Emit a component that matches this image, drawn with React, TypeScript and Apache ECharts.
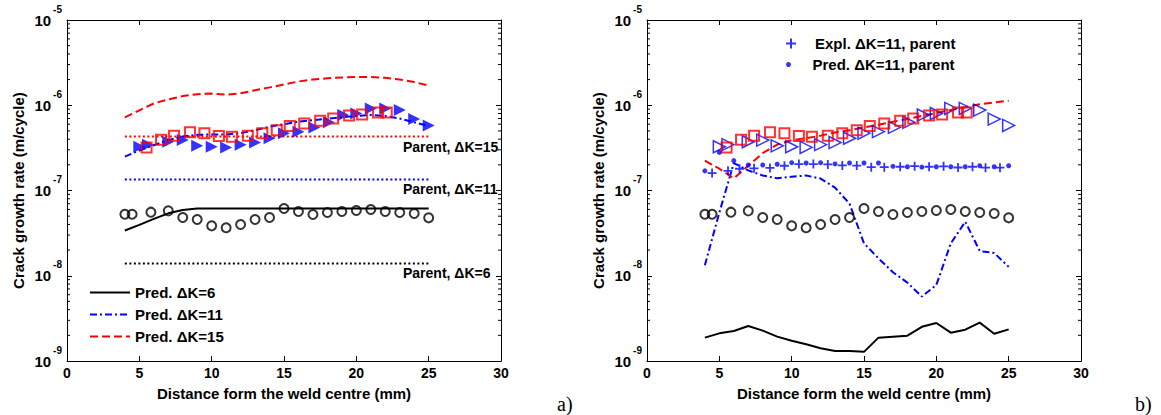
import React, { useEffect, useRef } from 'react';
import * as echarts from 'echarts';

// ---------- data ----------
const predX = [4, 5, 6, 7, 8, 9, 10, 11, 12, 13, 14, 15, 16, 17, 18, 19, 20, 21, 22, 23, 24, 25];

// panel a predictions
const predA6 = [3.4e-8, 3.95e-8, 4.65e-8, 5.4e-8, 5.9e-8, 6.15e-8, 6.15e-8, 6.15e-8, 6.15e-8, 6.15e-8, 6.15e-8, 6.15e-8, 6.15e-8, 6.15e-8, 6.15e-8, 6.15e-8, 6.15e-8, 6.15e-8, 6.15e-8, 6.15e-8, 6.15e-8, 6.15e-8];
const predA11 = [2.5e-7, 2.95e-7, 3.4e-7, 3.9e-7, 4.3e-7, 4.5e-7, 4.55e-7, 4.55e-7, 4.7e-7, 5.1e-7, 5.6e-7, 6.0e-7, 6.4e-7, 6.7e-7, 6.95e-7, 7.2e-7, 7.5e-7, 7.7e-7, 7.5e-7, 7.0e-7, 6.3e-7, 5.7e-7];
const predA15 = [7.2e-7, 8.7e-7, 1.05e-6, 1.17e-6, 1.28e-6, 1.35e-6, 1.37e-6, 1.33e-6, 1.38e-6, 1.5e-6, 1.62e-6, 1.75e-6, 1.9e-6, 2.0e-6, 2.07e-6, 2.12e-6, 2.15e-6, 2.15e-6, 2.1e-6, 2.0e-6, 1.87e-6, 1.7e-6];

// parent material levels (panel a)
const parentX = [4, 25];
const parent15 = [4.3e-7, 4.3e-7];
const parent11 = [1.35e-7, 1.35e-7];
const parent6 = [1.39e-8, 1.39e-8];

// panel b predictions
const predB6 = [1.88e-9, 2.11e-9, 2.25e-9, 2.57e-9, 2.27e-9, 1.93e-9, 1.73e-9, 1.57e-9, 1.41e-9, 1.31e-9, 1.31e-9, 1.28e-9, 1.88e-9, 1.93e-9, 1.98e-9, 2.52e-9, 2.79e-9, 2.15e-9, 2.33e-9, 2.82e-9, 2.09e-9, 2.35e-9];
const predB11 = [1.33e-8, 5.5e-8, 2.1e-7, 1.72e-7, 1.5e-7, 1.39e-7, 1.45e-7, 1.5e-7, 1.38e-7, 1.08e-7, 7.0e-8, 2.4e-8, 1.6e-8, 1.1e-8, 8.3e-9, 5.7e-9, 7.8e-9, 2.4e-8, 4.3e-8, 1.95e-8, 1.85e-8, 1.27e-8];
const predB15 = [2.24e-7, 1.8e-7, 1.39e-7, 1.95e-7, 2.75e-7, 3.45e-7, 3.9e-7, 4.1e-7, 4.4e-7, 4.8e-7, 5.1e-7, 5.5e-7, 5.9e-7, 6.4e-7, 6.9e-7, 7.5e-7, 8.1e-7, 8.8e-7, 9.5e-7, 1.03e-6, 1.08e-6, 1.13e-6];

// experiments (both panels)
const expl6X = [4, 4.5, 5.8, 7, 8, 9, 10, 11, 12, 13, 14, 15, 16, 17, 18, 19, 20, 21, 22, 23, 24, 25];
const expl6Y = [5.27e-8, 5.27e-8, 5.57e-8, 5.77e-8, 4.82e-8, 4.57e-8, 3.85e-8, 3.65e-8, 3.99e-8, 4.57e-8, 4.82e-8, 6.15e-8, 5.67e-8, 5.23e-8, 5.52e-8, 5.67e-8, 5.82e-8, 5.98e-8, 5.67e-8, 5.52e-8, 5.37e-8, 4.78e-8];
const expl11X = [5, 5.6, 7, 8, 9, 10, 11, 12, 13, 14, 15, 16, 17.1, 18.1, 19.1, 20, 21, 22, 23, 24, 25];
const expl11Y = [3.26e-7, 3.45e-7, 3.73e-7, 3.9e-7, 3.34e-7, 3.26e-7, 3.2e-7, 3.45e-7, 3.65e-7, 4.1e-7, 4.7e-7, 4.9e-7, 5.5e-7, 6.3e-7, 7.67e-7, 8.0e-7, 9.18e-7, 9.18e-7, 8.77e-7, 6.88e-7, 5.8e-7];
const expl15X = [5.5, 6.5, 7.4, 8.5, 9.5, 10.5, 11.4, 12.5, 13.5, 14.5, 15.4, 16.4, 17.5, 18.4, 19.5, 20.4, 21.5, 22.1];
const expl15Y = [3.19e-7, 3.94e-7, 4.39e-7, 4.82e-7, 4.68e-7, 4.35e-7, 4.28e-7, 4.4e-7, 4.68e-7, 5.1e-7, 5.7e-7, 6.1e-7, 6.58e-7, 7.0e-7, 7.6e-7, 7.8e-7, 8.24e-7, 8.24e-7];

// panel b parent
const plusX = [4.5, 5.6, 6.4, 7.4, 8.5, 9.5, 10.5, 11.5, 12.5, 13.5, 14.5, 15.5, 16.4, 17.5, 18.5, 19.5, 20.5, 21.5, 22.5, 23.4, 24.4];
const plusY = [1.6e-7, 1.7e-7, 1.8e-7, 1.82e-7, 1.84e-7, 1.95e-7, 2.04e-7, 2.04e-7, 2.02e-7, 1.97e-7, 1.96e-7, 1.88e-7, 1.88e-7, 1.9e-7, 1.93e-7, 1.9e-7, 1.92e-7, 1.86e-7, 1.9e-7, 1.85e-7, 1.85e-7];
const dotX = [4, 5, 6, 7, 8, 9, 10, 11, 12, 13, 14, 15, 16, 17, 18, 19, 20, 21, 22, 23, 24, 25];
const dotY = [1.7e-7, 2.8e-7, 2.24e-7, 1.99e-7, 1.99e-7, 2.03e-7, 2.12e-7, 2.1e-7, 2.12e-7, 2.05e-7, 2.1e-7, 2.1e-7, 2.1e-7, 1.92e-7, 1.9e-7, 1.88e-7, 1.9e-7, 1.9e-7, 1.9e-7, 1.95e-7, 1.9e-7, 1.95e-7];

// axis
const xMin = 0;
const xMax = 30;
const xStep = 5;
const yMin = 1e-9;
const yMax = 1e-5;
const minorDecades = [1e-9, 1e-8, 1e-7, 1e-6];
const minorMantissas = [2, 3, 4, 5, 6, 7, 8, 9];

const FONT = '"Liberation Sans", Arial, sans-serif';
const SERIF = '"Liberation Serif", "Times New Roman", serif';
const PLUS = 'path://M4,0H6V4H10V6H6V10H4V6H0V4H4Z';

const zip = (xs: number[], ys: number[]) => xs.map((x, i) => [x, ys[i]]);

const xAxisFor = (g: number, top: boolean) => ({
  gridIndex: g,
  type: 'value',
  min: xMin,
  max: xMax,
  interval: xStep,
  position: top ? 'top' : 'bottom',
  axisLine: { show: true, onZero: false, lineStyle: { color: '#000', width: 1 } },
  axisTick: { show: true, inside: true, length: 5, lineStyle: { color: '#000' } },
  axisLabel: top
    ? { show: false }
    : { color: '#000', fontSize: 14, fontWeight: 'bold', fontFamily: FONT, margin: 5 },
  splitLine: { show: false },
  ...(top
    ? {}
    : {
        name: 'Distance form the weld centre (mm)',
        nameLocation: 'middle',
        nameGap: 25,
        nameTextStyle: { color: '#000', fontSize: 15, fontWeight: 'bold', fontFamily: FONT },
      }),
});

const yAxisFor = (g: number, right: boolean) => ({
  gridIndex: g,
  type: 'log',
  logBase: 10,
  min: yMin,
  max: yMax,
  position: right ? 'right' : 'left',
  axisLine: { show: true, onZero: false, lineStyle: { color: '#000', width: 1 } },
  axisTick: { show: true, inside: true, length: 5, lineStyle: { color: '#000' } },
  axisLabel: right
    ? { show: false }
    : {
        margin: 5,
        formatter: (v: number) => `{b|10}{s|${Math.round(Math.log10(v))}}`,
        rich: {
          b: { fontSize: 15, fontWeight: 'bold', fontFamily: FONT, color: '#000', verticalAlign: 'middle' },
          s: { fontSize: 10, fontWeight: 'bold', fontFamily: FONT, color: '#000', verticalAlign: 'bottom', padding: [0, 0, 22, 2] },
        },
      },
  splitLine: { show: false },
  ...(right
    ? {}
    : {
        name: 'Crack growth rate (m/cycle)',
        nameLocation: 'middle',
        nameGap: 41,
        nameRotate: 90,
        nameTextStyle: { color: '#000', fontSize: 15, fontWeight: 'bold', fontFamily: FONT },
      }),
});

const lineSeries = (name: string, xs: number[], ys: number[], axis: number, color: string, type: any, width: number) => ({
  name,
  type: 'line',
  xAxisIndex: axis,
  yAxisIndex: axis,
  data: zip(xs, ys),
  showSymbol: false,
  symbol: 'none',
  smooth: false,
  lineStyle: { color, type, width },
  itemStyle: { color },
  z: 2,
});

const scatterSeries = (name: string, xs: number[], ys: number[], axis: number, opts: any) => ({
  name,
  type: 'scatter',
  xAxisIndex: axis,
  yAxisIndex: axis,
  data: zip(xs, ys),
  z: 3,
  ...opts,
});

const minorTickSeries = (axis: number) => ({
  type: 'custom',
  xAxisIndex: axis,
  yAxisIndex: axis,
  silent: true,
  clip: false,
  data: minorDecades.flatMap((d) => minorMantissas.map((m) => [0, m * d])),
  renderItem: (params: any, api: any) => {
    const y = api.coord([0, api.value(1)])[1];
    const cs = params.coordSys;
    return {
      type: 'group',
      children: [
        { type: 'line', shape: { x1: cs.x, y1: y, x2: cs.x + 3, y2: y }, style: { stroke: '#000', lineWidth: 1 } },
        { type: 'line', shape: { x1: cs.x + cs.width, y1: y, x2: cs.x + cs.width - 3, y2: y }, style: { stroke: '#000', lineWidth: 1 } },
      ],
    };
  },
});

const DASH = [8, 4];
const DASHDOT = [7, 3, 2, 3];
const DOT = [2, 2.5];

const legendText = { color: '#000', fontSize: 15, fontWeight: 'bold', fontFamily: FONT };

const option: any = {
  animation: false,
  backgroundColor: '#fff',
  grid: [
    { left: 67, top: 20, width: 434, height: 341 },
    { left: 647, top: 20, width: 434, height: 341 },
  ],
  xAxis: [xAxisFor(0, false), xAxisFor(0, true), xAxisFor(1, false), xAxisFor(1, true)],
  yAxis: [yAxisFor(0, false), yAxisFor(0, true), yAxisFor(1, false), yAxisFor(1, true)],
  legend: [
    {
      data: ['Pred. ΔK=6', 'Pred. ΔK=11', 'Pred. ΔK=15'],
      orient: 'vertical',
      left: 84,
      top: 280,
      itemWidth: 40,
      itemHeight: 14,
      itemGap: 7,
      selectedMode: false,
      itemStyle: { opacity: 0 },
      textStyle: legendText,
    },
    {
      data: [{ name: 'Expl. ΔK=11, parent', icon: PLUS }],
      left: 781,
      top: 31,
      itemWidth: 38,
      itemHeight: 10,
      selectedMode: false,
      textStyle: legendText,
    },
    {
      data: [{ name: 'Pred. ΔK=11, parent', icon: 'circle' }],
      left: 781,
      top: 52,
      itemWidth: 38,
      itemHeight: 5,
      selectedMode: false,
      textStyle: legendText,
    },
  ],
  series: [
    minorTickSeries(0),
    minorTickSeries(2),
    // panel a
    lineSeries('Parent 15', parentX, parent15, 0, '#ff0000', DOT, 2),
    lineSeries('Parent 11', parentX, parent11, 0, '#0000ff', DOT, 2),
    lineSeries('Parent 6', parentX, parent6, 0, '#000000', DOT, 2),
    lineSeries('Pred. ΔK=6', predX, predA6, 0, '#000000', 'solid', 2),
    lineSeries('Pred. ΔK=11', predX, predA11, 0, '#0000ff', DASHDOT, 2),
    lineSeries('Pred. ΔK=15', predX, predA15, 0, '#ff0000', DASH, 2),
    scatterSeries('a expl 11', expl11X, expl11Y, 0, {
      symbol: 'triangle', symbolRotate: -90, symbolSize: 12, itemStyle: { color: '#0000ff' },
    }),
    scatterSeries('a expl 15', expl15X, expl15Y, 0, {
      symbol: 'rect', symbolSize: 10, itemStyle: { color: 'rgba(0,0,0,0)', borderColor: '#ff0000', borderWidth: 2 },
    }),
    scatterSeries('a expl 6', expl6X, expl6Y, 0, {
      symbol: 'circle', symbolSize: 9, itemStyle: { color: 'rgba(0,0,0,0)', borderColor: '#000000', borderWidth: 2 },
    }),
    // panel b
    lineSeries('b pred 6', predX, predB6, 2, '#000000', 'solid', 2),
    lineSeries('b pred 11', predX, predB11, 2, '#0000ff', DASHDOT, 2),
    lineSeries('b pred 15', predX, predB15, 2, '#ff0000', DASH, 2),
    scatterSeries('b expl 11', expl11X, expl11Y, 2, {
      symbol: 'triangle', symbolRotate: -90, symbolSize: 12, itemStyle: { color: 'rgba(0,0,0,0)', borderColor: '#0000ff', borderWidth: 1.5 },
    }),
    scatterSeries('b expl 15', expl15X, expl15Y, 2, {
      symbol: 'rect', symbolSize: 10, itemStyle: { color: 'rgba(0,0,0,0)', borderColor: '#ff0000', borderWidth: 2 },
    }),
    scatterSeries('b expl 6', expl6X, expl6Y, 2, {
      symbol: 'circle', symbolSize: 9, itemStyle: { color: 'rgba(0,0,0,0)', borderColor: '#000000', borderWidth: 2 },
    }),
    scatterSeries('Expl. ΔK=11, parent', plusX, plusY, 2, {
      symbol: PLUS, symbolSize: 9, itemStyle: { color: '#0000ff' },
    }),
    scatterSeries('Pred. ΔK=11, parent', dotX, dotY, 2, {
      symbol: 'circle', symbolSize: 5, itemStyle: { color: '#0000ff' },
    }),
  ],
  graphic: [
    { type: 'text', x: 403, y: 147, style: { text: 'Parent, ΔK=15', font: `bold 14px ${FONT}`, fill: '#000', verticalAlign: 'middle' } },
    { type: 'text', x: 403, y: 189, style: { text: 'Parent, ΔK=11', font: `bold 14px ${FONT}`, fill: '#000', verticalAlign: 'middle' } },
    { type: 'text', x: 403, y: 273, style: { text: 'Parent, ΔK=6', font: `bold 14px ${FONT}`, fill: '#000', verticalAlign: 'middle' } },
    { type: 'text', x: 557, y: 404, style: { text: 'a)', font: `20px ${SERIF}`, fill: '#000', verticalAlign: 'middle' } },
    { type: 'text', x: 1135, y: 404, style: { text: 'b)', font: `20px ${SERIF}`, fill: '#000', verticalAlign: 'middle' } },
  ],
};

export default function App() {
  const ref = useRef<HTMLDivElement>(null);
  useEffect(() => {
    document.body.style.margin = '0';
    const chart = echarts.init(ref.current as HTMLDivElement, null, { renderer: 'svg' });
    chart.setOption(option);
    return () => chart.dispose();
  }, []);
  return <div ref={ref} style={{ width: 1161, height: 415 }} />;
}
